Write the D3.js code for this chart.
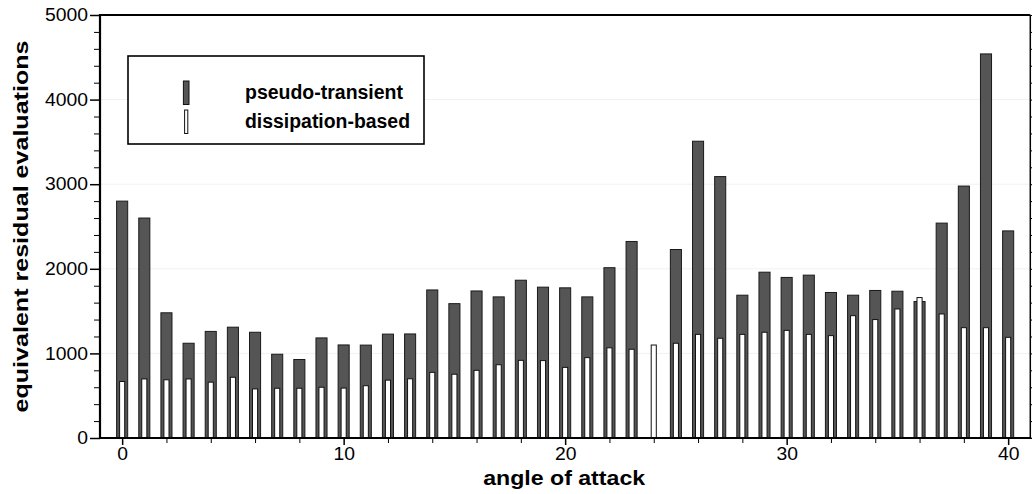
<!DOCTYPE html>
<html>
<head>
<meta charset="utf-8">
<script src="https://cdn.jsdelivr.net/npm/d3@7/dist/d3.min.js"></script>
<style>
  html, body { margin: 0; padding: 0; background: #fff; }
  svg { display: block; font-family: "Liberation Sans", Arial, Helvetica, sans-serif; }
</style>
</head>
<body>
<svg id="chart" width="1032" height="494"></svg>
<script>
// Angle of attack for each run
const angles = d3.range(0, 41);
// Equivalent residual evaluations, pseudo-transient continuation (no converged run at 24)
const pseudoTransient = [2800, 2600, 1480, 1120, 1260, 1310, 1250, 990, 928, 1183,
  1100, 1098, 1228, 1230, 1750, 1588, 1738, 1668, 1865, 1783,
  1775, 1668, 2013, 2323, null, 2228, 3508, 3090, 1688, 1960,
  1898, 1925, 1720, 1688, 1744, 1735, 1613, 2540, 2978, 4540, 2448];
// Equivalent residual evaluations, dissipation-based continuation
const dissipationBased = [668, 698, 688, 698, 660, 718, 580, 588, 588, 600,
  590, 618, 684, 700, 776, 754, 800, 866, 918, 915,
  835, 950, 1066, 1049, 1099, 1120, 1225, 1179, 1225, 1250,
  1272, 1225, 1210, 1446, 1400, 1525, 1660, 1466, 1304, 1304, 1190];

const yMajorTicks = [0, 1000, 2000, 3000, 4000, 5000];
const yMinorTicks = d3.range(0, 5001, 200).filter(v => v % 1000 !== 0);
const xMajorTicks = [0, 10, 20, 30, 40];
const xMinorTicks = d3.range(0, 41, 2).filter(v => v % 10 !== 0);
const gridValues = [1000, 2000, 3000, 4000];

const seriesNames = ["pseudo-transient", "dissipation-based"];

const svg = d3.select("#chart");
const plotLeft = 100, plotRight = 1030.3, plotTop = 15, plotBottom = 438;

const x = d3.scaleLinear().domain([-1, 41]).range([plotLeft, plotRight]);
const y = d3.scaleLinear().domain([0, 5000]).range([plotBottom, plotTop]);
const unit = x(1) - x(0);

// faint horizontal grid
svg.append("g").selectAll("line").data(gridValues).join("line")
  .attr("x1", plotLeft).attr("x2", plotRight)
  .attr("y1", d => y(d)).attr("y2", d => y(d))
  .attr("stroke", "#f1f1f1").attr("stroke-width", 1);

// pseudo-transient bars (wide, dark)
const ptData = angles.map((a, i) => ({a, v: pseudoTransient[i]})).filter(d => d.v != null);
svg.append("g").selectAll("rect").data(ptData).join("rect")
  .attr("x", d => x(d.a) - unit * 0.25)
  .attr("width", unit * 0.5)
  .attr("y", d => y(d.v))
  .attr("height", d => y(0) - y(d.v))
  .attr("fill", "#555555").attr("stroke", "#1a1a1a").attr("stroke-width", 1);

// dissipation-based bars (narrow, white)
const dbData = angles.map((a, i) => ({a, v: dissipationBased[i]}));
svg.append("g").selectAll("rect").data(dbData).join("rect")
  .attr("x", d => x(d.a) - unit * 0.115)
  .attr("width", unit * 0.23)
  .attr("y", d => y(d.v))
  .attr("height", d => y(0) - y(d.v))
  .attr("fill", "#ffffff").attr("stroke", "#111").attr("stroke-width", 1);

// axes
const digitW = 10.75;
function fitLabels(g) {
  g.selectAll("text")
    .attr("font-size", 17.5)
    .attr("fill", "#000")
    .attr("textLength", function() { return this.textContent.length * digitW; })
    .attr("lengthAdjust", "spacingAndGlyphs");
}

const yAxis = svg.append("g").attr("transform", `translate(${plotLeft},0)`)
  .call(d3.axisLeft(y).tickValues(yMajorTicks).tickSize(10).tickPadding(2).tickFormat(d3.format("d")));
yAxis.select(".domain").remove();
yAxis.selectAll(".tick line").attr("stroke-width", 1.5);
yAxis.call(fitLabels).attr("font-family", null);

const yMinor = svg.append("g").attr("transform", `translate(${plotLeft},0)`)
  .call(d3.axisLeft(y).tickValues(yMinorTicks).tickSize(6).tickFormat(""));
yMinor.select(".domain").remove();

const yRight = svg.append("g").attr("transform", `translate(${plotRight},0)`)
  .call(d3.axisRight(y).tickValues(yMajorTicks).tickSize(10).tickFormat(""));
yRight.select(".domain").remove();
const yRightMinor = svg.append("g").attr("transform", `translate(${plotRight},0)`)
  .call(d3.axisRight(y).tickValues(yMinorTicks).tickSize(6).tickFormat(""));
yRightMinor.select(".domain").remove();

const xAxis = svg.append("g").attr("transform", `translate(0,${plotBottom})`)
  .call(d3.axisBottom(x).tickValues(xMajorTicks).tickSize(7).tickPadding(3).tickFormat(d3.format("d")));
xAxis.select(".domain").remove();
xAxis.selectAll(".tick line").attr("stroke-width", 1.5);
xAxis.call(fitLabels).attr("font-family", null);

const xMinor = svg.append("g").attr("transform", `translate(0,${plotBottom})`)
  .call(d3.axisBottom(x).tickValues(xMinorTicks).tickSize(5).tickFormat(""));
xMinor.select(".domain").remove();

// frame
svg.append("line").attr("x1", plotLeft).attr("x2", plotLeft).attr("y1", plotTop - 1).attr("y2", plotBottom + 1)
  .attr("stroke", "#000").attr("stroke-width", 2.2);
svg.append("line").attr("x1", plotLeft - 1).attr("x2", plotRight + 1).attr("y1", plotBottom).attr("y2", plotBottom)
  .attr("stroke", "#000").attr("stroke-width", 2.2);
svg.append("line").attr("x1", plotLeft).attr("x2", plotRight).attr("y1", plotTop).attr("y2", plotTop)
  .attr("stroke", "#000").attr("stroke-width", 2);
svg.append("line").attr("x1", plotRight).attr("x2", plotRight).attr("y1", plotTop).attr("y2", plotBottom)
  .attr("stroke", "#000").attr("stroke-width", 1.5);

// axis titles
svg.append("text")
  .attr("x", (x(-1) + x(41)) / 2 - 1).attr("y", 485)
  .attr("text-anchor", "middle").attr("font-size", 21).attr("font-weight", "bold")
  .attr("textLength", 162).attr("lengthAdjust", "spacingAndGlyphs")
  .text("angle of attack");

svg.append("text")
  .attr("transform", `translate(27.5,${(plotTop + plotBottom) / 2}) rotate(-90)`)
  .attr("text-anchor", "middle").attr("font-size", 21).attr("font-weight", "bold")
  .attr("textLength", 372).attr("lengthAdjust", "spacingAndGlyphs")
  .text("equivalent residual evaluations");

// legend
const legend = svg.append("g");
legend.append("rect").attr("x", 128).attr("y", 56).attr("width", 296).attr("height", 88)
  .attr("fill", "#fff").attr("stroke", "#000").attr("stroke-width", 1.6);
const legendItems = [
  {name: seriesNames[0], fill: "#555555", w: 5.6, y: 81, base: 99, len: 158},
  {name: seriesNames[1], fill: "#ffffff", w: 3.2, y: 110, base: 127.5, len: 165}
];
legendItems.forEach(it => {
  legend.append("rect").attr("x", 186.2 - it.w / 2).attr("y", it.y).attr("width", it.w).attr("height", 23.5)
    .attr("fill", it.fill).attr("stroke", "#111").attr("stroke-width", 1);
  legend.append("text").attr("x", 245).attr("y", it.base)
    .attr("font-size", 19.5).attr("font-weight", "bold")
    .attr("textLength", it.len).attr("lengthAdjust", "spacingAndGlyphs")
    .text(it.name);
});
</script>
</body>
</html>
